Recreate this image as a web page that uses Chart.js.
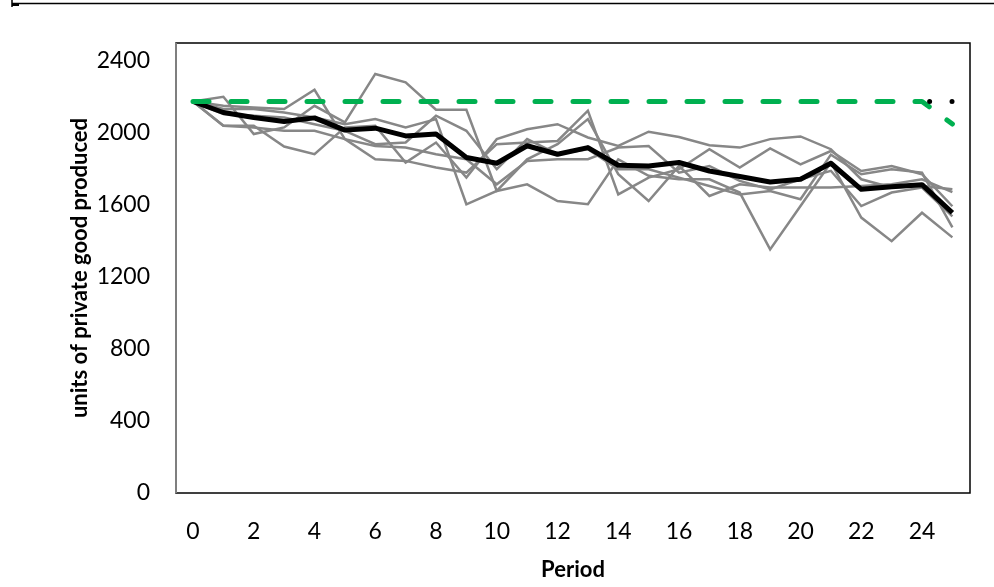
<!DOCTYPE html>
<html>
<head>
<meta charset="utf-8">
<script src="https://cdn.jsdelivr.net/npm/chart.js@4/dist/chart.umd.min.js"></script>
<style>
  html, body { margin: 0; padding: 0; background: #fff; }
  #wrap { position: relative; width: 994px; height: 587px; }
</style>
</head>
<body>
<div id="wrap"><canvas id="c" width="994" height="587"></canvas></div>
<script>
// ---- data ----
const periods = [0,1,2,3,4,5,6,7,8,9,10,11,12,13,14,15,16,17,18,19,20,21,22,23,24,25];
const xTickLabels = [0,2,4,6,8,10,12,14,16,18,20,22,24];
const yTickLabels = [0,400,800,1200,1600,2000,2400];

const average = [2175,2114,2086,2064,2084,2016,2027,1984,1994,1864,1832,1929,1882,1919,1821,1817,1836,1789,1758,1728,1743,1832,1687,1702,1713,1557];

const group1 = [2175,2201,1994,2031,2151,2059,2328,2281,2129,2129,1678,1715,1622,1604,1854,1762,1743,1743,1669,1353,1594,1836,1530,1399,1557,1420];
const group2 = [2175,2151,2142,2133,2240,1966,1854,1845,1808,1780,1938,1947,1956,2124,1659,1752,1799,1910,1808,1914,1826,1900,1789,1817,1771,1593];
const group3 = [2175,2040,2040,1925,1882,2031,2040,1836,1947,1752,1966,2021,2049,1975,1928,2007,1978,1932,1919,1966,1981,1910,1743,1697,1706,1687];
const group4 = [2175,2133,2133,2114,2086,2049,2077,2031,2077,1604,1678,1854,1938,2077,1771,1622,1817,1650,1715,1697,1697,1697,1706,1715,1743,1671];
const group5 = [2175,2105,2096,2086,2049,2012,1938,1947,2096,2012,1799,1966,1882,1910,1799,1799,1752,1706,1659,1678,1632,1880,1771,1799,1780,1476];
const group6 = [2175,2040,2031,2012,2012,1966,1928,1919,1882,1854,1715,1845,1854,1854,1919,1928,1780,1817,1734,1687,1743,1790,1594,1669,1697,1537];

const prediction = [2175,2175,2175,2175,2175,2175,2175,2175,2175,2175,2175,2175,2175,2175,2175,2175,2175,2175,2175,2175,2175,2175,2175,2175,2175,2050];
const optimum = [null,null,null,null,null,null,null,null,null,null,null,null,null,null,null,null,null,null,null,null,null,null,null,null,2175,2175];

const axisTitleY = 'units of private good produced';
const axisTitleX = 'Period';

// ---- drawing ----
const FONT = 'Lato';
const grey = '#878787';

function greyDs(data, i) {
  return { label: 'group ' + i, data, borderColor: grey, borderWidth: 2.5, pointRadius: 0, tension: 0, fill: false, order: 5 };
}

const framePlugin = {
  id: 'frame',
  beforeDatasetsDraw(chart) {
    const { ctx, chartArea: a } = chart;
    ctx.save();
    ctx.strokeStyle = '#000';
    ctx.lineWidth = 1.5;
    ctx.strokeRect(a.left, a.top, a.right - a.left, a.bottom - a.top);
    ctx.strokeStyle = '#7f7f7f';
    ctx.lineWidth = 2;
    ctx.beginPath();
    ctx.moveTo(a.left, a.top);
    ctx.lineTo(a.left, a.bottom);
    ctx.stroke();
    ctx.restore();
  },
  afterDraw(chart) {
    // document table rule at the very top of the crop
    const { ctx } = chart;
    ctx.save();
    ctx.strokeStyle = '#000';
    ctx.lineWidth = 1.5;
    ctx.beginPath();
    ctx.moveTo(12, 3.5); ctx.lineTo(994, 3.5);
    ctx.moveTo(12, 0); ctx.lineTo(12, 7);
    ctx.stroke();
    ctx.lineWidth = 2;
    ctx.beginPath();
    ctx.moveTo(12, 5); ctx.lineTo(19, 5);
    ctx.stroke();
    ctx.restore();
  }
};

new Chart(document.getElementById('c'), {
  type: 'line',
  data: {
    labels: periods,
    datasets: [
      { label: 'optimum', data: optimum, borderColor: '#000', borderWidth: 5, borderDash: [0.01, 22.4], borderDashOffset: -7.6, borderCapStyle: 'round', pointRadius: 0, tension: 0, fill: false, spanGaps: false, order: 0 },
      { label: 'prediction', data: prediction, borderColor: '#00b050', borderWidth: 5, borderDash: [16, 22], borderCapStyle: 'round', borderJoinStyle: 'round', pointRadius: 0, tension: 0, fill: false, order: 1 },
      { label: 'average', data: average, borderColor: '#000', borderWidth: 5, borderJoinStyle: 'round', pointRadius: 0, tension: 0, fill: false, order: 2 },
      greyDs(group1, 1), greyDs(group2, 2), greyDs(group3, 3),
      greyDs(group4, 4), greyDs(group5, 5), greyDs(group6, 6)
    ]
  },
  options: {
    responsive: false,
    animation: false,
    devicePixelRatio: 1,
    layout: { padding: { top: 43, right: 24, bottom: 0, left: 0 } },
    plugins: { legend: { display: false }, tooltip: { enabled: false }, title: { display: false } },
    scales: {
      x: {
        type: 'linear',
        min: -0.56,
        max: 25.58,
        grid: { display: false, drawTicks: false },
        border: { display: false },
        afterBuildTicks(scale) { scale.ticks = xTickLabels.map(v => ({ value: v })); },
        afterFit(scale) { scale.height = 94; },
        ticks: { color: '#000', font: { family: FONT, size: 23 }, padding: 25, maxRotation: 0, autoSkip: false, callback: v => String(v) },
        title: { display: true, text: axisTitleX, color: '#000', font: { family: FONT, size: 22, weight: 'bold' }, padding: { top: 0, bottom: 4 } }
      },
      y: {
        min: 0,
        max: 2500,
        grid: { display: false, drawTicks: false },
        border: { display: false },
        afterBuildTicks(scale) { scale.ticks = yTickLabels.map(v => ({ value: v })); },
        afterFit(scale) { scale.width = 176; },
        ticks: { color: '#000', font: { family: FONT, size: 23 }, padding: 26, callback: v => String(v) },
        title: { display: true, text: axisTitleY, color: '#000', font: { family: FONT, size: 22, weight: 'bold' }, padding: { top: 67, bottom: 0 } }
      }
    }
  },
  plugins: [framePlugin]
});
</script>
</body>
</html>
